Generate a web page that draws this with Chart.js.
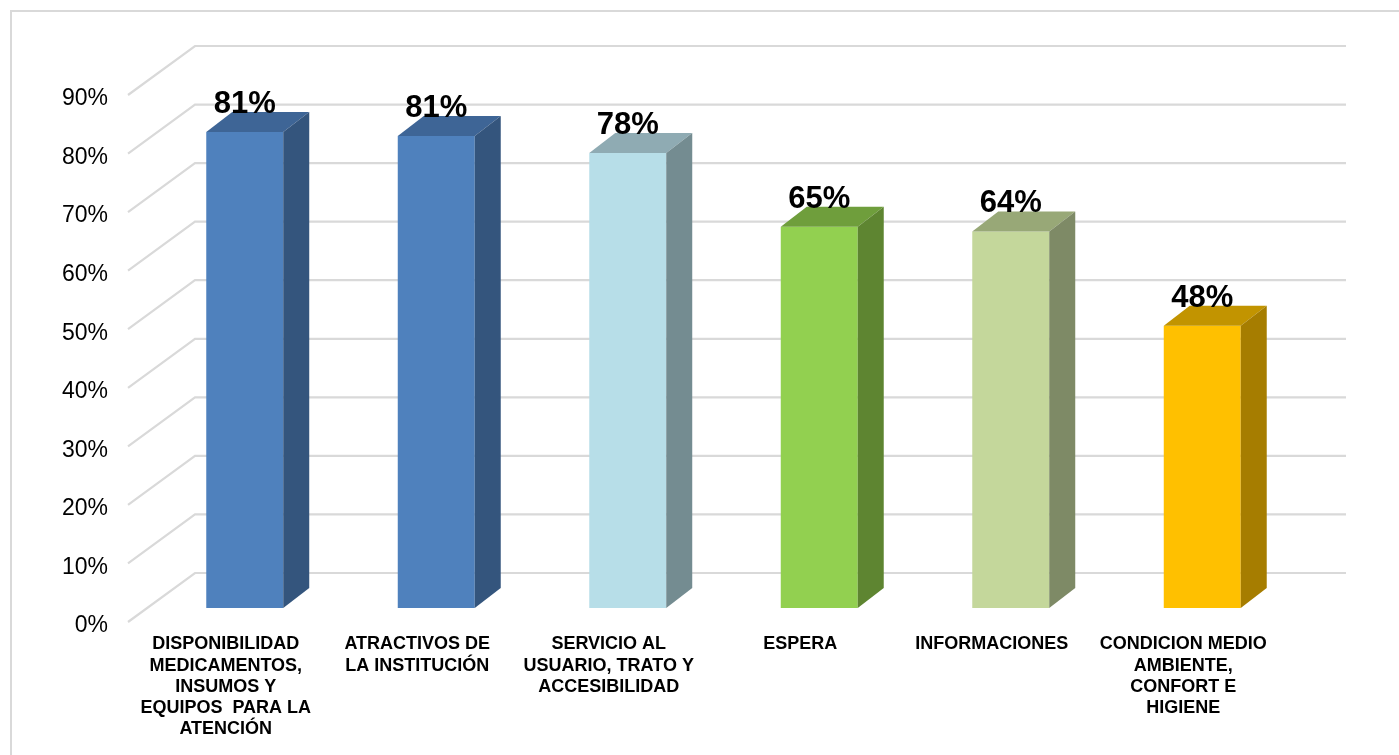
<!DOCTYPE html>
<html>
<head>
<meta charset="utf-8">
<script src="https://cdn.jsdelivr.net/npm/chart.js@4.4.1/dist/chart.umd.min.js"></script>
<style>
    html, body { margin: 0; padding: 0; background: #fff; overflow: hidden; }
    #marco { position: absolute; left: 10px; top: 10px; width: 1500px; height: 900px; border: 2px solid #d9d9d9; }
    #wrap { position: absolute; left: 0; top: 0; width: 1399px; height: 755px; }
</style>
</head>
<body>
<div id="marco"></div>
<div id="wrap"><canvas id="grafico"></canvas></div>
<script>
// Datos
const categorias = [
    ['DISPONIBILIDAD', 'MEDICAMENTOS,', 'INSUMOS Y', 'EQUIPOS  PARA LA', 'ATENCIÓN'],
    ['ATRACTIVOS DE', 'LA INSTITUCIÓN'],
    ['SERVICIO AL', 'USUARIO, TRATO Y', 'ACCESIBILIDAD'],
    ['ESPERA'],
    ['INFORMACIONES'],
    ['CONDICION MEDIO', 'AMBIENTE,', 'CONFORT E', 'HIGIENE']
];
const valores = [81.3, 80.6, 77.7, 65.1, 64.3, 48.2];
const etiquetas = ['81%', '81%', '78%', '65%', '64%', '48%'];
const ticksY = [0, 10, 20, 30, 40, 50, 60, 70, 80, 90];

// Colores de cada cara de la barra
const colorFrente = ['#4f81bd', '#4f81bd', '#b7dee8', '#92d050', '#c4d79b', '#ffc000'];
const colorArriba = ['#3e6596', '#3e6596', '#8fabb3', '#6f9e3c', '#98a877', '#c29400'];
const colorLado = ['#34557d', '#34557d', '#748c91', '#5e8531', '#7e8a66', '#a67d00'];

const fuente = '"Liberation Sans", Arial, sans-serif';

// Profundidad 3D
const fondoDx = 46, fondoDy = -35;   // pared del fondo
const frenteDx = -21, frenteDy = 14; // borde del piso
const barraDx = 26, barraDy = -20;   // grosor de la barra

// Plugin para el efecto 3D
const efecto3D = {
    id: 'efecto3D',
    beforeDatasetsDraw(chart) {
        const ctx = chart.ctx;
        const area = chart.chartArea;
        const y = chart.scales.y;
        ctx.save();
        ctx.strokeStyle = '#d9d9d9';
        ctx.lineWidth = 2.2;
        ticksY.forEach(function(v) {
            const py = y.getPixelForValue(v);
            ctx.beginPath();
            ctx.moveTo(area.left + frenteDx, py + frenteDy);
            ctx.lineTo(area.left + fondoDx, py + fondoDy);
            ctx.lineTo(area.right + 48, py + fondoDy);
            ctx.stroke();
        });
        ctx.restore();
    },
    afterDatasetsDraw(chart) {
        const ctx = chart.ctx;
        const meta = chart.getDatasetMeta(0);
        ctx.save();
        meta.data.forEach(function(bar, i) {
            const izq = bar.x - bar.width / 2;
            const der = bar.x + bar.width / 2;
            // cara superior
            ctx.fillStyle = colorArriba[i];
            ctx.beginPath();
            ctx.moveTo(izq, bar.y);
            ctx.lineTo(der, bar.y);
            ctx.lineTo(der + barraDx, bar.y + barraDy);
            ctx.lineTo(izq + barraDx, bar.y + barraDy);
            ctx.closePath();
            ctx.fill();
            // cara lateral
            ctx.fillStyle = colorLado[i];
            ctx.beginPath();
            ctx.moveTo(der, bar.y);
            ctx.lineTo(der + barraDx, bar.y + barraDy);
            ctx.lineTo(der + barraDx, bar.base + barraDy);
            ctx.lineTo(der, bar.base);
            ctx.closePath();
            ctx.fill();
            // etiqueta
            ctx.fillStyle = '#000';
            ctx.font = 'bold 31px ' + fuente;
            ctx.textAlign = 'center';
            ctx.textBaseline = 'alphabetic';
            ctx.fillText(etiquetas[i], bar.x, bar.y - 19);
        });
        ctx.restore();
    }
};

const config = {
    type: 'bar',
    data: {
        labels: categorias,
        datasets: [{
            data: valores,
            backgroundColor: colorFrente,
            borderWidth: 0,
            barPercentage: 1,
            categoryPercentage: 0.402
        }]
    },
    options: {
        responsive: false,
        animation: false,
        layout: { padding: { left: 10, right: 101, top: 81, bottom: 0 } },
        plugins: {
            legend: { display: false },
            tooltip: { enabled: false },
            title: { display: false }
        },
        scales: {
            x: {
                grid: { display: false, drawTicks: false },
                border: { display: false },
                afterFit: function(scale) { scale.height = 147; },
                ticks: {
                    autoSkip: false,
                    maxRotation: 0,
                    minRotation: 0,
                    padding: 26,
                    labelOffset: -19,
                    color: '#000',
                    font: { family: fuente, size: 18, weight: 'bold', lineHeight: 1.17 }
                }
            },
            y: {
                min: 0,
                max: 90,
                grid: { display: false, drawTicks: false },
                border: { display: false },
                afterFit: function(scale) { scale.width = 139; },
                ticks: {
                    stepSize: 10,
                    padding: 41,
                    labelOffset: 18,
                    color: '#000',
                    font: { family: fuente, size: 23 },
                    callback: function(v) { return v + '%'; }
                }
            }
        }
    },
    plugins: [efecto3D]
};

const canvas = document.getElementById('grafico');
canvas.width = 1399;
canvas.height = 755;
var miGrafico = new Chart(canvas, config);
</script>
</body>
</html>
